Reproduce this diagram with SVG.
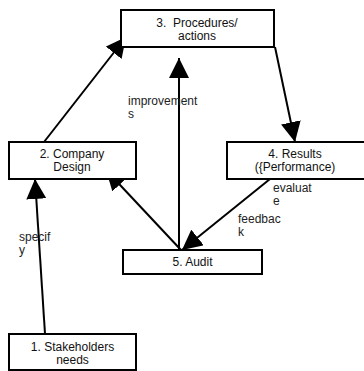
<svg xmlns="http://www.w3.org/2000/svg" width="364" height="371" viewBox="0 0 364 371">
<defs>
<style>
.box{fill:#fff;stroke:#000;stroke-width:2}
.t{font-family:"Liberation Sans",Arial,sans-serif;font-size:12px;fill:#111;text-anchor:middle}
.l{font-family:"Liberation Sans",Arial,sans-serif;font-size:12px;fill:#222}
.c{stroke:#000;stroke-width:2;fill:none;marker-end:url(#ah)}
</style>
<marker id="ah" markerUnits="userSpaceOnUse" markerWidth="20" markerHeight="20" refX="20" refY="10" orient="auto" viewBox="0 0 20 20">
<path d="M0,0 L20,10 L0,20 z" fill="#000"/>
</marker>
</defs>
<rect width="364" height="371" fill="#fff"/>
<g id="connectors">
<line class="c" x1="45" y1="334" x2="35" y2="179"/>
<line class="c" x1="44" y1="142" x2="126" y2="37"/>
<line class="c" x1="275" y1="47" x2="295" y2="142"/>
<line class="c" x1="179" y1="250" x2="179" y2="58"/>
<line class="c" x1="181" y1="250" x2="106" y2="170"/>
<line class="c" x1="270" y1="179" x2="182" y2="250"/>
</g>
<g id="node3">
<rect class="box" x="121" y="10" width="153" height="37"/>
<text class="t" x="197" y="26.5" xml:space="preserve">3.  Procedures/</text>
<text class="t" x="197" y="39.5">actions</text>
</g>
<g id="node2">
<rect class="box" x="9" y="142" width="127" height="37"/>
<text class="t" x="72" y="158">2. Company</text>
<text class="t" x="72" y="171">Design</text>
</g>
<g id="node4">
<rect class="box" x="227" y="142" width="139" height="37"/>
<text class="t" x="295" y="158">4. Results</text>
<text class="t" x="295" y="171">({Performance)</text>
</g>
<g id="node5">
<rect class="box" x="123" y="250" width="139" height="24"/>
<text class="t" x="192.5" y="266">5. Audit</text>
</g>
<g id="node1">
<rect class="box" x="9" y="334" width="127" height="36"/>
<text class="t" x="72.5" y="350.5">1. Stakeholders</text>
<text class="t" x="72.5" y="363.5">needs</text>
</g>
<g id="labels">
<text class="l" x="128" y="105">improvement</text>
<text class="l" x="128" y="118">s</text>
<text class="l" x="19" y="241">specif</text>
<text class="l" x="19" y="254">y</text>
<text class="l" x="273" y="192">evaluat</text>
<text class="l" x="273" y="205">e</text>
<text class="l" x="238" y="223">feedbac</text>
<text class="l" x="238" y="236">k</text>
</g>
</svg>
